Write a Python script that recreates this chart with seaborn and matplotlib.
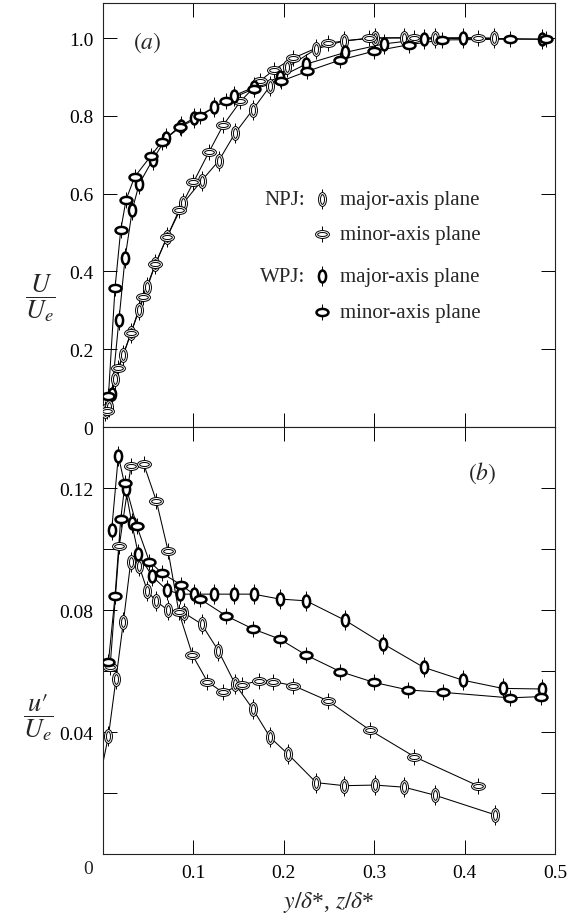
import matplotlib
matplotlib.use("Agg")
import matplotlib.pyplot as plt
from matplotlib.path import Path
from matplotlib.transforms import Affine2D
import seaborn as sns

# ---------------- data: panel (a) mean velocity U/Ue ----------------
npj_major_x_a = [0.002, 0.007, 0.0133, 0.0225, 0.031, 0.040, 0.049, 0.058, 0.071, 0.089,
                 0.109, 0.128, 0.146, 0.1655, 0.185, 0.204, 0.236, 0.267, 0.301, 0.333,
                 0.367, 0.433]
npj_major_U = [0.042, 0.051, 0.123, 0.185, 0.242, 0.301, 0.359, 0.419, 0.489, 0.576,
               0.633, 0.684, 0.755, 0.815, 0.877, 0.925, 0.972, 0.993, 1.000, 1.001,
               1.000, 1.000]

npj_minor_x_a = [0.004, 0.017, 0.031, 0.044, 0.058, 0.071, 0.0845, 0.100, 0.117, 0.133,
                 0.152, 0.174, 0.189, 0.210, 0.249, 0.294, 0.344, 0.4145]
npj_minor_U = [0.040, 0.152, 0.242, 0.333, 0.419, 0.489, 0.559, 0.629, 0.706, 0.776,
               0.837, 0.890, 0.918, 0.948, 0.987, 1.000, 1.000, 1.000]

wpj_major_x_a = [0.0096, 0.0177, 0.0244, 0.0325, 0.040, 0.055, 0.070, 0.086, 0.101, 0.123,
                 0.145, 0.1665, 0.196, 0.2248, 0.268, 0.311, 0.355, 0.398, 0.486]
wpj_major_U = [0.085, 0.276, 0.434, 0.559, 0.625, 0.687, 0.743, 0.775, 0.794, 0.822,
               0.852, 0.873, 0.900, 0.933, 0.963, 0.985, 0.997, 1.000, 0.997]

wpj_minor_x_a = [0.006, 0.0133, 0.0196, 0.0255, 0.035, 0.053, 0.065, 0.085, 0.107, 0.136,
                 0.1665, 0.197, 0.2255, 0.2617, 0.2993, 0.339, 0.375, 0.450, 0.4895]
wpj_minor_U = [0.079, 0.357, 0.506, 0.584, 0.643, 0.697, 0.733, 0.770, 0.799, 0.839,
               0.869, 0.889, 0.914, 0.943, 0.966, 0.983, 0.995, 0.997, 0.997]

# ---------------- data: panel (b) turbulence intensity u'/Ue ----------------
npj_major_x_b = [0.0, 0.006, 0.0144, 0.0225, 0.0307, 0.0399, 0.049, 0.0583, 0.0716, 0.090,
                 0.109, 0.1277, 0.1462, 0.1658, 0.185, 0.2045, 0.2359, 0.267, 0.301,
                 0.3333, 0.3669, 0.4333]
npj_major_u = [0.030, 0.0386, 0.0574, 0.0760, 0.0958, 0.0945, 0.0863, 0.0830, 0.0800, 0.0790,
               0.0754, 0.0666, 0.0557, 0.0475, 0.0382, 0.0328, 0.0234, 0.0224, 0.0226,
               0.0219, 0.0193, 0.0129]

npj_minor_x_b = [0.0078, 0.018, 0.031, 0.045, 0.059, 0.072, 0.084, 0.099, 0.1155, 0.1325,
                 0.1536, 0.1731, 0.1886, 0.2107, 0.2484, 0.2949, 0.3444, 0.4145]
npj_minor_u = [0.0612, 0.1010, 0.1273, 0.1279, 0.1158, 0.0994, 0.0792, 0.0652, 0.0565, 0.0530,
               0.0555, 0.0568, 0.0565, 0.0552, 0.0503, 0.0407, 0.0319, 0.0224]

wpj_major_x_b = [0.0096, 0.017, 0.025, 0.0318, 0.039, 0.0546, 0.0705, 0.0853, 0.1008, 0.1229,
                 0.145, 0.1665, 0.1953, 0.2248, 0.268, 0.310, 0.3547, 0.398, 0.442, 0.486]
wpj_major_u = [0.1062, 0.1306, 0.1197, 0.1085, 0.0984, 0.0910, 0.0866, 0.0852, 0.0852, 0.0852,
               0.0852, 0.0852, 0.0836, 0.0830, 0.0766, 0.0689, 0.0612, 0.0570, 0.0543, 0.0541]

wpj_minor_x_b = [0.006, 0.0133, 0.0196, 0.0244, 0.0373, 0.0513, 0.0657, 0.086, 0.1074, 0.1362,
                 0.1658, 0.1953, 0.2248, 0.2625, 0.2993, 0.3374, 0.3762, 0.450, 0.484]
wpj_minor_u = [0.0628, 0.0845, 0.1098, 0.1215, 0.1076, 0.0959, 0.0920, 0.0883, 0.0836, 0.0781,
               0.0738, 0.0705, 0.0652, 0.0598, 0.0563, 0.0538, 0.0530, 0.0512, 0.0516]

x_ticks = [0.1, 0.2, 0.3, 0.4, 0.5]
x_ticklabels = ["0.1", "0.2", "0.3", "0.4", "0.5"]
a_yticks = [0, 0.2, 0.4, 0.6, 0.8, 1.0]
a_yticklabels = ["0", "0.2", "0.4", "0.6", "0.8", "1.0"]
b_yticks = [0.02, 0.04, 0.06, 0.08, 0.10, 0.12]
b_yticklabels = ["", "0.04", "", "0.08", "", "0.12"]

legend_groups = ["NPJ:", "", "WPJ:", ""]
legend_labels = ["major-axis plane", "minor-axis plane", "major-axis plane", "minor-axis plane"]

# ---------------- style ----------------
sns.set_theme(style="ticks")
plt.rcParams['font.family'] = ['Liberation Serif', 'DejaVu Serif']
plt.rcParams['mathtext.fontset'] = 'stix'


def ellipse_marker(w, h, double):
    c = Path.unit_circle()
    outer = c.transformed(Affine2D().scale(w, h))
    if double:
        if h > w:
            inner = c.transformed(Affine2D().scale(w * 0.5, h * 0.7))
        else:
            inner = c.transformed(Affine2D().scale(w * 0.7, h * 0.5))
        return Path.make_compound_path(outer, inner)
    return outer


styles = {
    "npj_major": dict(path=ellipse_marker(0.57, 1.0, True), ms=10.0, mew=0.7, bar=14.5),
    "npj_minor": dict(path=ellipse_marker(1.0, 0.57, True), ms=10.0, mew=0.7, bar=11.0),
    "wpj_major": dict(path=ellipse_marker(0.6, 1.0, False), ms=8.6, mew=1.8, bar=14.5),
    "wpj_minor": dict(path=ellipse_marker(1.0, 0.6, False), ms=8.6, mew=1.8, bar=11.0),
}

fig = plt.figure(figsize=(5.69, 9.2), dpi=100)
ax1 = fig.add_axes([0.1810, 0.53478, 0.7944, 0.46087])
ax2 = fig.add_axes([0.1810, 0.07065, 0.7944, 0.46413])


def draw(ax, x, y, st, skip_first=False):
    sns.lineplot(x=x, y=y, ax=ax, color="black", lw=0.75, sort=False,
                 estimator=None, zorder=2)
    mx = x[1:] if skip_first else x
    my = y[1:] if skip_first else y
    sns.lineplot(x=mx, y=my, ax=ax, color="black", marker="|", ms=st["bar"],
                 mew=0.7, mec="black", linestyle="none", sort=False,
                 estimator=None, zorder=3)
    sns.lineplot(x=mx, y=my, ax=ax, color="black", marker=st["path"], ms=st["ms"],
                 mfc="white", mec="black", mew=st["mew"], linestyle="none",
                 sort=False, estimator=None, zorder=4)


draw(ax1, npj_major_x_a, npj_major_U, styles["npj_major"])
draw(ax1, npj_minor_x_a, npj_minor_U, styles["npj_minor"])
draw(ax1, wpj_major_x_a, wpj_major_U, styles["wpj_major"])
draw(ax1, wpj_minor_x_a, wpj_minor_U, styles["wpj_minor"])

draw(ax2, npj_major_x_b, npj_major_u, styles["npj_major"], skip_first=True)
draw(ax2, npj_minor_x_b, npj_minor_u, styles["npj_minor"])
draw(ax2, wpj_major_x_b, wpj_major_u, styles["wpj_major"])
draw(ax2, wpj_minor_x_b, wpj_minor_u, styles["wpj_minor"])

for ax in (ax1, ax2):
    ax.set_xlim(0, 0.5)
    ax.set_xticks(x_ticks)
    ax.set_xlabel("")
    ax.set_ylabel("")
    ax.tick_params(direction="in", length=10, width=0.7, top=True, right=True,
                   labelsize=14, pad=7, colors="black")
    for sp in ax.spines.values():
        sp.set_linewidth(0.8)
        sp.set_color("#222222")
        sp.set_visible(True)

ax1.set_ylim(0, 1.09)
ax1.set_yticks(a_yticks)
ax1.set_yticklabels(a_yticklabels)
ax1.tick_params(labelbottom=False)

ax2.set_ylim(0, 0.14)
ax2.set_yticks(b_yticks)
ax2.set_yticklabels(b_yticklabels)
ax2.set_xticklabels(x_ticklabels)
ax2.text(-0.0166, -0.035, "0", transform=ax2.get_xaxis_transform(),
         ha="center", va="center", fontsize=14)

# panel labels
ax1.text(0.097, 0.908, r"$(a)$", transform=ax1.transAxes, ha="center", va="center",
         fontsize=17)
ax2.text(0.838, 0.895, r"$(b)$", transform=ax2.transAxes, ha="center", va="center",
         fontsize=17)

# legend (manual, as in the original)
leg_y = [(428 - 200) / 424, (428 - 235) / 424, (428 - 277) / 424, (428 - 313) / 424]
leg_keys = ["npj_major", "npj_minor", "wpj_major", "wpj_minor"]
for grp, lab, yy, key in zip(legend_groups, legend_labels, leg_y, leg_keys):
    st = styles[key]
    ax1.plot([0.4845], [yy], transform=ax1.transAxes, marker="|", ms=st["bar"],
             mew=0.7, color="black", linestyle="none", zorder=5)
    ax1.plot([0.4845], [yy], transform=ax1.transAxes, marker=st["path"], ms=st["ms"],
             mfc="white", mec="black", mew=st["mew"], linestyle="none", zorder=6)
    if grp:
        ax1.text(0.447, yy, grp, transform=ax1.transAxes, ha="right", va="center",
                 fontsize=15)
    ax1.text(0.524, yy, lab, transform=ax1.transAxes, ha="left", va="center",
             fontsize=15)

# axis labels
fig.text(40 / 569, 1 - 298 / 920, r"$\dfrac{U}{U_e}$", ha="center", va="center",
         fontsize=19)
fig.text(38 / 569, 1 - 718 / 920, "$\\dfrac{u\u2032}{U_e}$", ha="center", va="center",
         fontsize=19)
fig.text(329 / 569, 1 - 903 / 920, r"$y/\delta$*, $z/\delta$*", ha="center",
         va="center", fontsize=17)

fig.savefig("out.png", dpi=100, facecolor="white")
